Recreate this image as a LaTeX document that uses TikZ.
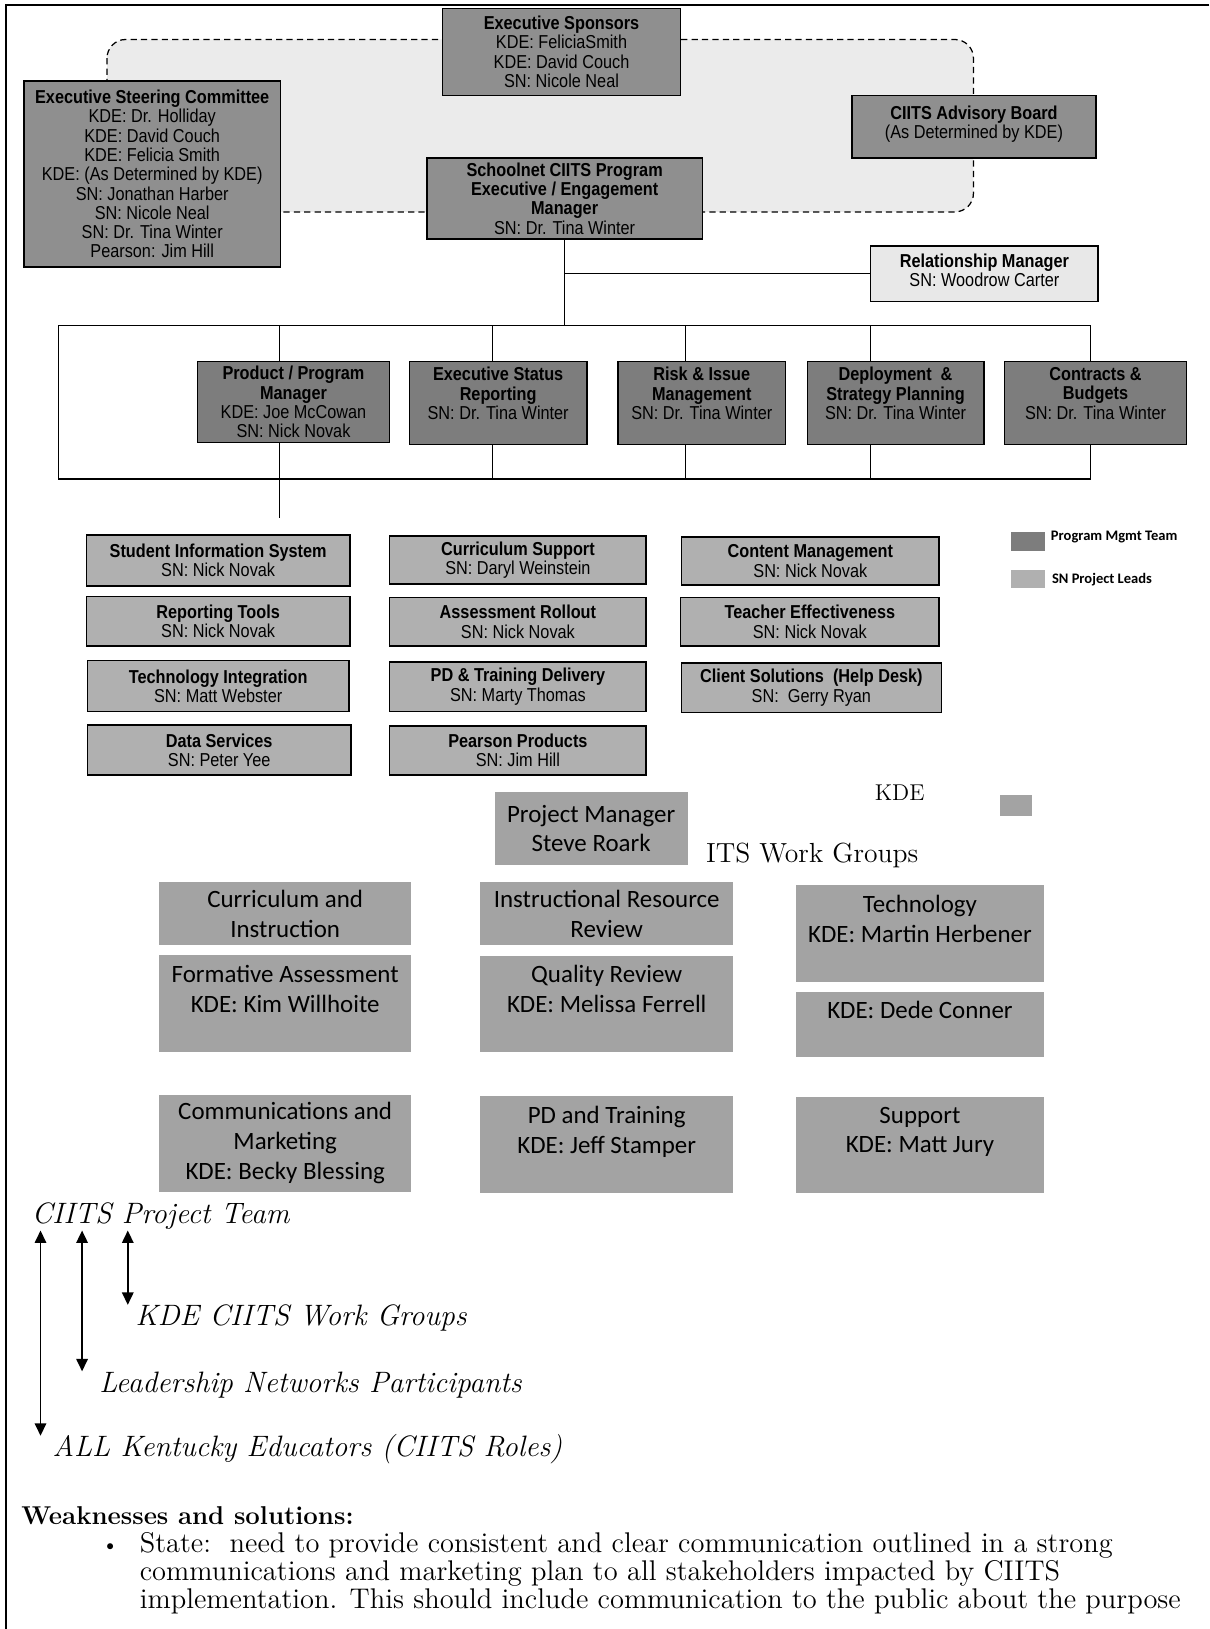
\documentclass[tikz,border=0pt]{standalone}
\usepackage{fontspec}
\newfontfamily\narrowsf[FakeStretch=0.87]{Liberation Sans}
\newfontfamily\calibri{Carlito}
\usetikzlibrary{arrows.meta}

\definecolor{sponsgray}{gray}{0.56}
\definecolor{mgmtgray}{gray}{0.49}
\definecolor{leadgray}{gray}{0.69}
\definecolor{kdegray}{gray}{0.64}
\definecolor{cloudgray}{gray}{0.92}
\definecolor{relgray}{gray}{0.91}

\begin{document}
\begin{tikzpicture}[x=0.5pt,y=-0.5pt,line width=0.6pt,
  wh/.style 2 args={minimum width=#1*0.5pt,minimum height=#2*0.5pt},
  orgbox/.style={draw,line width=0.7pt,inner sep=0pt,align=center,
    font=\narrowsf\fontsize{9}{9.3}\selectfont},
  topbox/.style={orgbox,fill=sponsgray},
  mgmtbox/.style={orgbox,fill=mgmtgray},
  leadbox/.style={orgbox,fill=leadgray},
  kdebox/.style={fill=kdegray,inner sep=0pt,align=center,
    font=\calibri\fontsize{12}{14.4}\selectfont},
  legend/.style={inner sep=0pt,anchor=west,font=\calibri\bfseries\fontsize{7}{8}\selectfont},
  role/.style={inner sep=0pt,anchor=base west,font=\itshape\fontsize{14.2}{16}\selectfont},
  twoway/.style={{Triangle[length=6pt,width=5.5pt]}-{Triangle[length=6pt,width=5.5pt]},line width=0.9pt}]

  \useasboundingbox (0,0) rectangle (1164,1568);

  % page frame
  \draw[line width=0.8pt] (1164,5) -- (6,5) -- (6,1568);

  % sponsor cloud
  \draw[dash pattern=on 3pt off 2pt,fill=cloudgray,rounded corners=9pt] (103,38) rectangle (937,204);

  % top level
  \node[topbox,wh={229}{84}] (spons) at (540.5,50) {\textbf{Executive Sponsors}\\KDE: FeliciaSmith\\KDE: David Couch\\SN: Nicole Neal};
  \node[topbox,wh={247}{179}] (steer) at (146.5,167.5) {\textbf{Executive Steering Committee}\\KDE: Dr. Holliday\\KDE: David Couch\\KDE: Felicia Smith\\KDE: (As Determined by KDE)\\SN: Jonathan Harber\\SN: Nicole Neal\\SN: Dr. Tina Winter\\Pearson: Jim Hill};
  \node[topbox,wh={235}{60}] (board) at (937.5,122) {\textbf{CIITS Advisory Board}\\(As Determined by KDE)\\[-5pt]~};
  \node[topbox,wh={265}{78}] (prog) at (543.5,191) {\textbf{Schoolnet CIITS Program}\\\textbf{Executive / Engagement}\\\textbf{Manager}\\SN: Dr. Tina Winter};
  \node[orgbox,fill=relgray,wh={219}{53}] (relm) at (947.5,263.5) {\textbf{Relationship Manager}\\SN: Woodrow Carter\\[-6pt]~};

  % program management team
  \node[mgmtbox,wh={185}{78}] (pm) at (282.5,387) {\textbf{Product / Program}\\\textbf{Manager}\\KDE: Joe McCowan\\SN: Nick Novak};
  \node[mgmtbox,wh={171}{80}] (esr) at (479.5,388) {\textbf{Executive Status}\\\textbf{Reporting}\\SN: Dr. Tina Winter\\~};
  \node[mgmtbox,wh={161}{80}] (risk) at (675.5,388) {\textbf{Risk \& Issue}\\\textbf{Management}\\SN: Dr. Tina Winter\\~};
  \node[mgmtbox,wh={170}{80}] (dep) at (862,388) {\textbf{Deployment \ \&}\\\textbf{Strategy Planning}\\SN: Dr. Tina Winter\\~};
  \node[mgmtbox,wh={175}{80}] (con) at (1054.5,388) {\textbf{Contracts \&}\\\textbf{Budgets}\\SN: Dr. Tina Winter\\~};

  % bracket round the team
  \coordinate (tl) at (56,313);
  \coordinate (bl) at (56,461);
  \coordinate (pmend) at (269,499);
  \foreach \n/\x in {pm/269,esr/474,risk/660,dep/838,con/1050}{
    \coordinate (t\n) at (\x,313);
    \coordinate (b\n) at (\x,461);
    \draw (t\n) -- (t\n |- \n.north);
  }
  \foreach \n in {esr,risk,dep,con}
    \draw (b\n |- \n.south) -- (b\n);
  \draw (bpm |- pm.south) -- (pmend);
  \draw (tcon) -- (tl) -- (bl) -- (bcon);

  % reporting lines
  \draw (prog.south) -- (prog.south |- tl);
  \draw (prog.south |- relm.west) -- (relm.west);

  % SN project leads
  \node[leadbox,wh={254}{49}] (sis) at (210,539.5) {\textbf{Student Information System}\\SN: Nick Novak};
  \node[leadbox,wh={254}{48}] (rep) at (210,598) {\textbf{Reporting Tools}\\SN: Nick Novak};
  \node[leadbox,wh={252}{49}] (tin) at (210,660.5) {\textbf{Technology Integration}\\SN: Matt Webster};
  \node[leadbox,wh={254}{48}] (dat) at (211,722) {\textbf{Data Services}\\SN: Peter Yee};
  \node[leadbox,wh={247}{46}] (cur) at (498.5,539) {\textbf{Curriculum Support}\\SN: Daryl Weinstein};
  \node[leadbox,wh={247}{47}] (asr) at (498.5,598.5) {\textbf{Assessment Rollout}\\SN: Nick Novak};
  \node[leadbox,wh={247}{48}] (pdd) at (498.5,661) {\textbf{PD \& Training Delivery}\\SN: Marty Thomas};
  \node[leadbox,wh={247}{47}] (pea) at (498.5,722.5) {\textbf{Pearson Products}\\SN: Jim Hill};
  \node[leadbox,wh={248}{46}] (cms) at (780,540) {\textbf{Content Management}\\SN: Nick Novak};
  \node[leadbox,wh={249}{47}] (tef) at (779.5,598.5) {\textbf{Teacher Effectiveness}\\SN: Nick Novak};
  \node[leadbox,wh={250}{48}] (hlp) at (781,662) {\textbf{Client Solutions \ (Help Desk)}\\SN: \ Gerry Ryan};

  % legend
  \node[fill=mgmtgray,wh={33}{18}] (swmgmt) at (989.5,521) {};
  \node[legend] (lgmgmt) at (1011,517) {Program Mgmt Team};
  \node[fill=leadgray,wh={33}{17}] (swlead) at (989.5,557.5) {};
  \node[legend] (lglead) at (1012,558) {SN Project Leads};
  \node[inner sep=0pt,font=\fontsize{11}{13}\selectfont] (kdelbl) at (866,763) {KDE};
  \node[fill=kdegray,wh={30}{20}] (swkde) at (978,775) {};

  % KDE work groups
  \node[kdebox,wh={186}{71}] (pmgr) at (569,797.5) {Project Manager\\Steve Roark};
  \node[inner sep=0pt,anchor=base west,font=\fontsize{13.3}{15}\selectfont] (itswg) at (679,830) {ITS Work Groups};
  \node[kdebox,wh={243}{61}] (cni) at (274.5,879.5) {Curriculum and\\Instruction};
  \node[kdebox,wh={244}{61}] (irr) at (584,879.5) {Instructional Resource\\Review};
  \node[kdebox,wh={239}{93}] (tec) at (885.5,898.5) {Technology\\KDE: Martin Herbener\\~};
  \node[kdebox,wh={243}{94}] (frm) at (274.5,966) {Formative Assessment\\KDE: Kim Willhoite\\~};
  \node[kdebox,wh={244}{93}] (qlr) at (584,966.5) {Quality Review\\KDE: Melissa Ferrell\\~};
  \node[kdebox,wh={239}{62}] (ded) at (885.5,986) {KDE: Dede Conner\\~};
  \node[kdebox,wh={243}{93}] (com) at (274.5,1100.5) {Communications and\\Marketing\\KDE: Becky Blessing};
  \node[kdebox,wh={244}{93}] (pdt) at (584,1101.5) {PD and Training\\KDE: Jeff Stamper\\~};
  \node[kdebox,wh={239}{92}] (sup) at (885.5,1102) {Support\\KDE: Matt Jury\\~};

  % communication reach
  \node[role] (team) at (30,1178) {CIITS Project Team};
  \node[role] (kwg) at (130,1276) {KDE CIITS Work Groups};
  \node[role] (lnp) at (95,1340) {Leadership Networks Participants};
  \node[role] (all) at (50,1402) {ALL Kentucky Educators (CIITS Roles)};
  \coordinate (a1) at ([xshift=4.5pt]team.south west);
  \coordinate (a2) at ([xshift=24.5pt]team.south west);
  \coordinate (a3) at ([xshift=46.5pt]team.south west);
  \coordinate (kwgtip) at ([yshift=10pt]kwg.base west);
  \coordinate (lnptip) at ([yshift=10pt]lnp.base west);
  \coordinate (alltip) at ([yshift=10pt]all.base west);
  \draw[twoway] (a1) -- (a1 |- alltip);
  \draw[twoway] (a2) -- (a2 |- lnptip);
  \draw[twoway] (a3) -- (a3 |- kwgtip);

  % weaknesses
  \node[inner sep=0pt,anchor=base west,font=\bfseries\fontsize{12.4}{14}\selectfont] (weak) at (20,1467) {Weaknesses and solutions:};
  \node[inner sep=0pt,anchor=base] (bul) at (106,1493) {\textbullet};
  \node[inner sep=0pt,anchor=north west,align=left,font=\fontsize{13.7}{13.5}\selectfont] (state) at (134,1474) {State:\ \ need to provide consistent and clear communication outlined in a strong\\communications and marketing plan to all stakeholders impacted by CIITS\\implementation. This should include communication to the public about the purpose};

\end{tikzpicture}
\end{document}
